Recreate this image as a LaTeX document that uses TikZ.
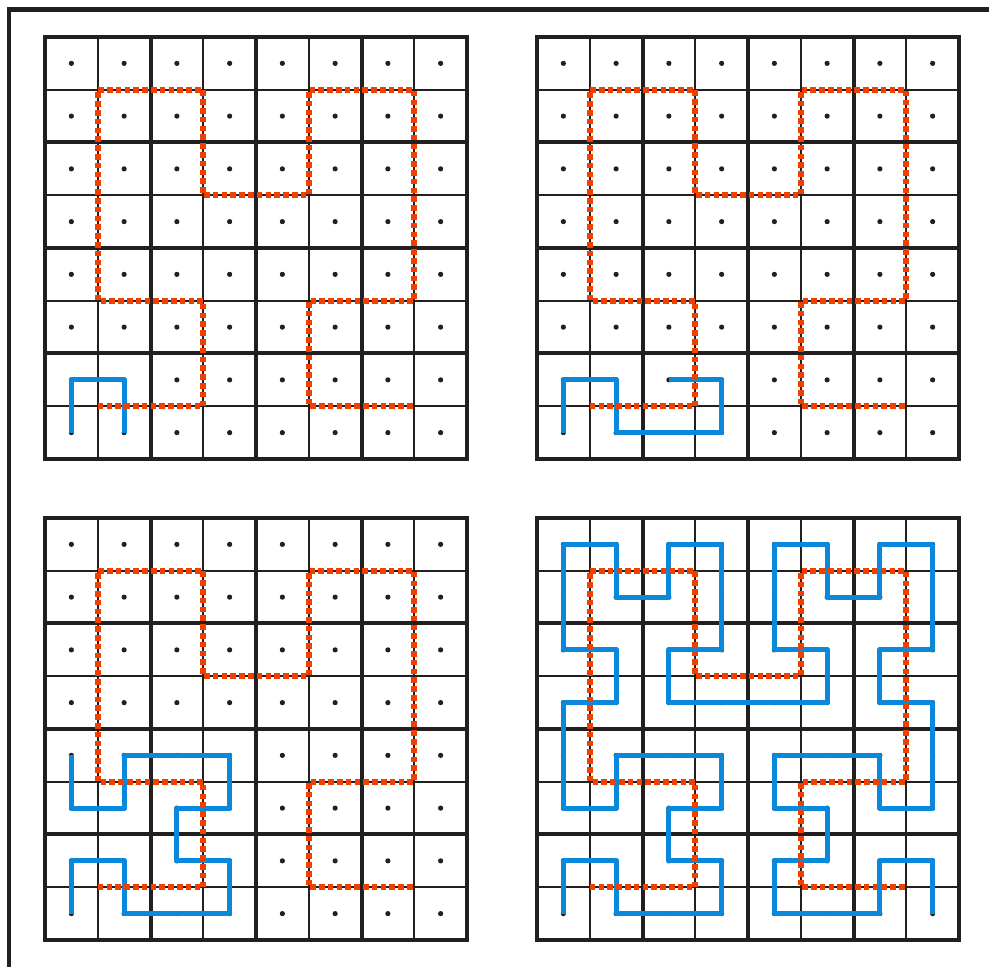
\documentclass[tikz,border=0pt]{standalone}
\usepackage{xcolor}
\usepackage{tikz}
\definecolor{cGrid}{HTML}{231F20}
\definecolor{cBlue}{HTML}{0A88DC}
\definecolor{cRed} {HTML}{F04000}

\newcommand{\hilbgrid}{%
  \foreach \k in {1,3,5,7} {
    \draw[gridthin] (\k,0) -- (\k,8);
    \draw[gridthin] (0,\k) -- (8,\k);
  }
  \foreach \k in {2,4,6} {
    \draw[gridthick] (\k,0) -- (\k,8);
    \draw[gridthick] (0,\k) -- (8,\k);
  }
  \draw[gridthick] (0,0) rectangle (8,8);
  \foreach \i in {0,...,7}
    \foreach \j in {0,...,7}
      \fill[cGrid] (\i+0.5,\j+0.5) circle (2.6pt);
}
\newcommand{\hilbred}{%
  \draw[redpath] (1,1) -- (3,1) -- (3,3) -- (1,3) -- (1,7) -- (3,7) -- (3,5) -- (5,5)
    -- (5,7) -- (7,7) -- (7,3) -- (5,3) -- (5,1) -- (7,1);
}

\begin{document}
\begin{tikzpicture}[x=52.75pt,y=52.75pt,
    gridthin/.style={cGrid,line width=2.2pt},
    gridthick/.style={cGrid,line width=4pt,line cap=rect},
    bluepath/.style={cBlue,line width=5.2pt,line join=round,shift={(0.5,0.5)}},
    redpath/.style={cRed,line width=5.6pt,dash pattern=on 5.6pt off 3.2pt}]
  \useasboundingbox (0,0) rectangle (989pt,967pt);
  \draw[cGrid,line width=4.8pt] (9pt,0) |- (995pt,957.5pt);

  \begin{scope}[shift={(45pt,508pt)}]
    \hilbgrid
    \draw[bluepath] (0,0) -- (0,1) -- (1,1) -- (1,0);
    \hilbred
  \end{scope}

  \begin{scope}[shift={(537pt,508pt)}]
    \hilbgrid
    \draw[bluepath] (0,0) -- (0,1) -- (1,1) -- (1,0) -- (3,0) -- (3,1) -- (2,1);
    \hilbred
  \end{scope}

  \begin{scope}[shift={(45pt,27pt)}]
    \hilbgrid
    \draw[bluepath] (0,0) -- (0,1) -- (1,1) -- (1,0) -- (3,0) -- (3,1) -- (2,1) -- (2,2)
      -- (3,2) -- (3,3) -- (1,3) -- (1,2) -- (0,2) -- (0,3);
    \hilbred
  \end{scope}

  \begin{scope}[shift={(537pt,27pt)}]
    \hilbgrid
    \draw[bluepath] (0,0) -- (0,1) -- (1,1) -- (1,0) -- (3,0) -- (3,1) -- (2,1) -- (2,2)
      -- (3,2) -- (3,3) -- (1,3) -- (1,2) -- (0,2) -- (0,4) -- (1,4) -- (1,5) -- (0,5)
      -- (0,7) -- (1,7) -- (1,6) -- (2,6) -- (2,7) -- (3,7) -- (3,5) -- (2,5) -- (2,4)
      -- (5,4) -- (5,5) -- (4,5) -- (4,7) -- (5,7) -- (5,6) -- (6,6) -- (6,7) -- (7,7)
      -- (7,5) -- (6,5) -- (6,4) -- (7,4) -- (7,2) -- (6,2) -- (6,3) -- (4,3) -- (4,2)
      -- (5,2) -- (5,1) -- (4,1) -- (4,0) -- (6,0) -- (6,1) -- (7,1) -- (7,0);
    \hilbred
  \end{scope}
\end{tikzpicture}
\end{document}
